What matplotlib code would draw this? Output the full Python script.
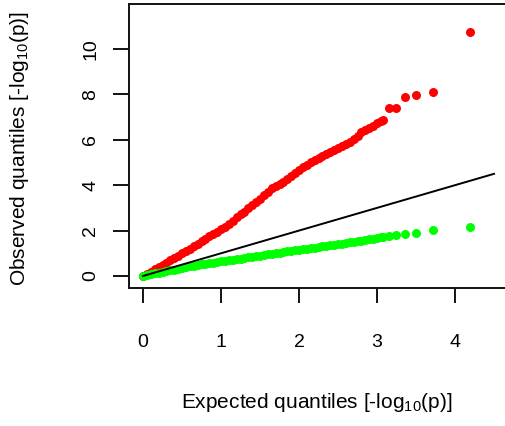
import numpy as np
import matplotlib
matplotlib.use("Agg")
import matplotlib.pyplot as plt

# QQ plot of -log10(p)
expected = [0.00, 0.05, 0.10, 0.15, 0.20, 0.25, 0.30, 0.35, 0.40, 0.45,
            0.50, 0.55, 0.60, 0.65, 0.70, 0.75, 0.80, 0.85, 0.90, 0.95,
            1.00, 1.05, 1.10, 1.15, 1.20, 1.25, 1.30, 1.35, 1.40, 1.45,
            1.50, 1.55, 1.60, 1.65, 1.70, 1.75, 1.80, 1.85, 1.90, 1.95,
            2.00, 2.05, 2.10, 2.15, 2.20, 2.25, 2.30, 2.35, 2.40, 2.45,
            2.50, 2.55, 2.60, 2.65, 2.70, 2.75, 2.80, 2.85, 2.90, 2.95,
            3.00, 3.05, 3.08, 3.16, 3.24, 3.36, 3.50, 3.72, 4.19]

observed_red = [0.00, 0.09, 0.19, 0.29, 0.39, 0.49, 0.59, 0.69, 0.80, 0.90,
                1.00, 1.10, 1.21, 1.32, 1.42, 1.53, 1.63, 1.74, 1.85, 1.95,
                2.05, 2.17, 2.30, 2.44, 2.58, 2.71, 2.84, 2.98, 3.12, 3.27,
                3.41, 3.56, 3.72, 3.88, 3.98, 4.07, 4.16, 4.28, 4.40, 4.52,
                4.65, 4.78, 4.89, 5.00, 5.10, 5.20, 5.29, 5.38, 5.48, 5.56,
                5.64, 5.72, 5.82, 5.92, 6.03, 6.18, 6.36, 6.44, 6.52, 6.62,
                6.72, 6.82, 6.87, 7.42, 7.42, 7.89, 7.97, 8.09, 10.75]

observed_green = [0.00, 0.04, 0.07, 0.11, 0.14, 0.18, 0.21, 0.25, 0.28, 0.32,
                  0.35, 0.38, 0.42, 0.45, 0.48, 0.51, 0.54, 0.56, 0.59, 0.62,
                  0.64, 0.67, 0.69, 0.72, 0.74, 0.77, 0.80, 0.82, 0.85, 0.87,
                  0.90, 0.92, 0.95, 0.97, 1.00, 1.03, 1.05, 1.08, 1.11, 1.13,
                  1.16, 1.18, 1.21, 1.23, 1.25, 1.28, 1.30, 1.33, 1.35, 1.38,
                  1.40, 1.43, 1.46, 1.48, 1.51, 1.54, 1.56, 1.59, 1.62, 1.64,
                  1.67, 1.70, 1.72, 1.76, 1.82, 1.85, 1.91, 2.01, 2.14]

diag = [0, 4.5]
xticks = [0, 1, 2, 3, 4]
yticks = [0, 2, 4, 6, 8, 10]

plt.rcParams['font.family'] = ['Liberation Sans', 'DejaVu Sans']
plt.rcParams['mathtext.fontset'] = 'custom'
plt.rcParams['mathtext.rm'] = 'Liberation Sans'
plt.rcParams['mathtext.it'] = 'Liberation Sans'

W, H = 506, 426
fig = plt.figure(figsize=(W / 100, H / 100), dpi=100)
# box runs past the right edge of the picture, like the original crop
ax = fig.add_axes([129 / W, (H - 288) / H, (520 - 129) / W, 284 / H])

ax.scatter(expected, observed_red, s=42, color='#ff0000', linewidths=0, zorder=2)
ax.scatter(expected, observed_green, s=42, color='#00ff00', linewidths=0, zorder=3)
ax.plot(diag, diag, color='black', lw=1.4, zorder=4)

ax.set_xlim(-0.1795, 4.833)
ax.set_ylim(-0.529, 11.98)
ax.set_xticks(xticks)
ax.set_yticks(yticks)
ax.set_xticklabels([str(t) for t in xticks])
ax.set_yticklabels([str(t) for t in yticks], rotation=90, va='center')

for s in ax.spines.values():
    s.set_linewidth(1.4)
    s.set_color('#111111')
ax.tick_params(axis='x', length=11, width=1.3, pad=22, labelsize=14)
ax.tick_params(axis='y', length=11.5, width=1.3, pad=10, labelsize=14)

fig.text(317 / W, 1 - 403 / H, r'Expected quantiles [-log$_{10}$(p)]',
         ha='center', va='center', fontsize=15)
fig.text(20 / W, 1 - 148 / H, r'Observed quantiles [-log$_{10}$(p)]',
         ha='center', va='center', fontsize=15, rotation=90)

fig.savefig('out.png', dpi=100)
